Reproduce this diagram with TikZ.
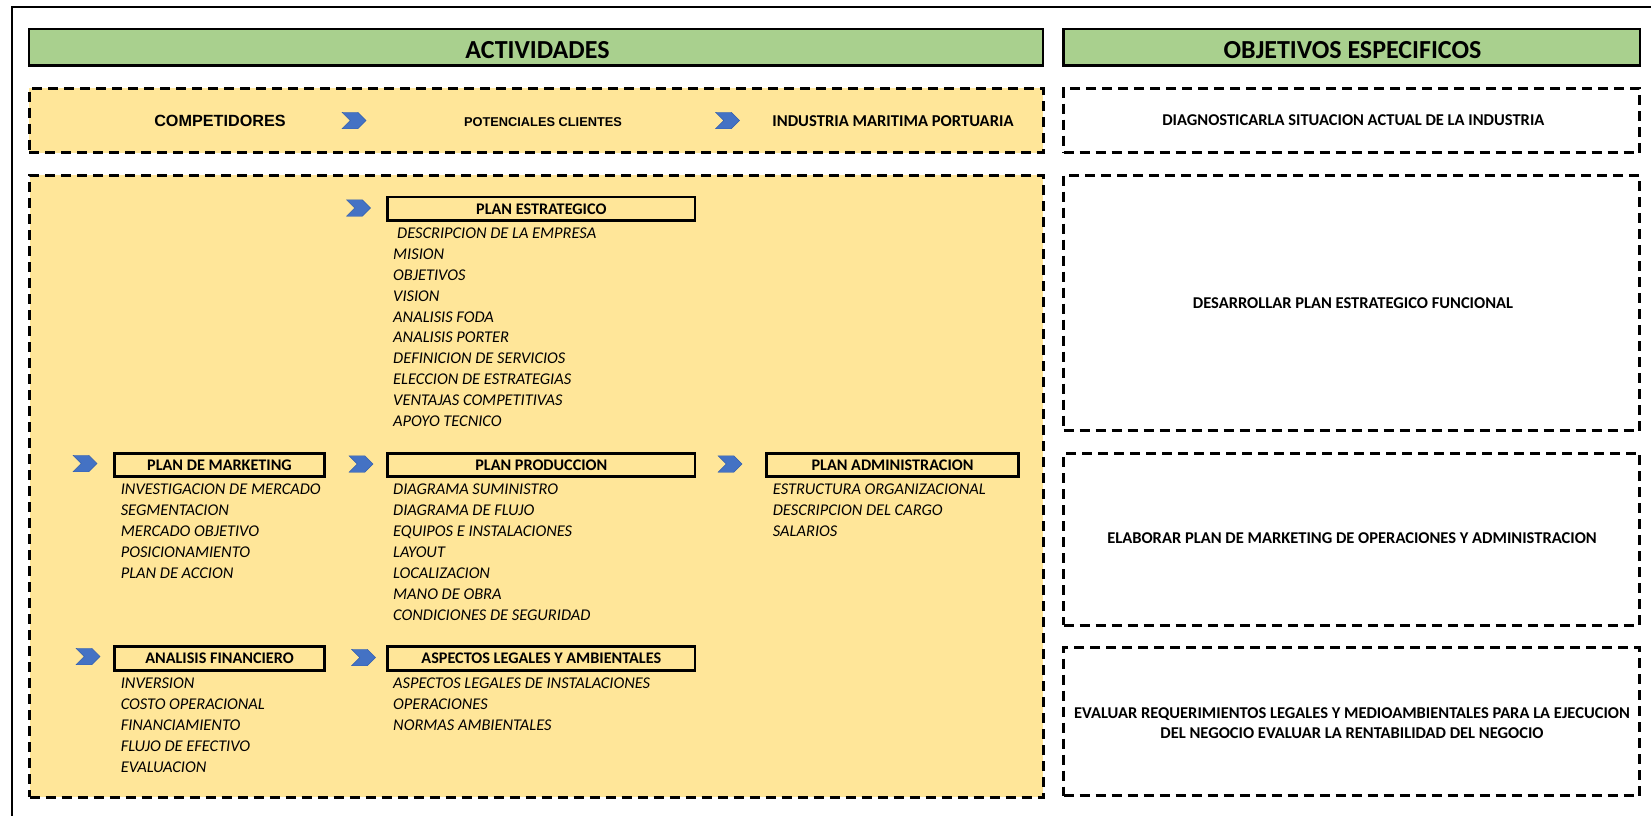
\documentclass[tikz,border=0pt]{standalone}
\usepackage{fontspec}
\setmainfont{Carlito}
\newfontfamily\arialfont{Liberation Sans}
\usetikzlibrary{shapes.symbols}
\definecolor{hdrgreen}{HTML}{A9D08E}
\definecolor{panelgold}{HTML}{FFE699}
\definecolor{chevblue}{HTML}{4472C4}
\definecolor{chevedge}{HTML}{3560AE}

\begin{document}
\begin{tikzpicture}[x=1pt,y=-1pt,
  header/.style={draw, line width=2.6pt, fill=hdrgreen, minimum height=36.5pt, inner sep=0pt},
  headtext/.style={anchor=base, inner sep=0pt, font=\bfseries\fontsize{26}{30}\selectfont},
  dashbox/.style={draw, line width=3pt, dash pattern=on 10pt off 6pt, inner sep=0pt},
  titlebox/.style={draw, line width=2.8pt, minimum height=23.5pt, inner sep=0pt, font=\bfseries\fontsize{16.2}{18}\selectfont},
  chev/.style={signal, signal from=west, signal to=east, fill=chevblue, draw=chevedge, line width=0.4pt, minimum width=24pt, minimum height=16.5pt, inner sep=0pt},
  entry/.style={anchor=base west, inner sep=0pt, font=\itshape\fontsize{16.4}{18}\selectfont},
  goal/.style={anchor=base, inner sep=0pt, align=center, font=\bfseries\fontsize{16.5}{20}\selectfont},
  flowtext/.style={anchor=base, inner sep=0pt},
]
% page and outer frame
\path[use as bounding box, fill=white] (0,0) rectangle (1651,816);
\begin{scope}
  \clip (0,0) rectangle (1651,816);
  \draw[line width=2pt] (1700,7) -- (11.5,7) -- (11.5,860);
\end{scope}

% column headers
\node[header, minimum width=1014pt] (hdrA) at (536,47.25) {};
\node[headtext] (hdrAtxt) at (537.5,58.5) {ACTIVIDADES};
\node[header, minimum width=576.5pt] (hdrO) at (1351.75,47.25) {};
\node[headtext] (hdrOtxt) at (1352.5,58.5) {OBJETIVOS ESPECIFICOS};

% activity panels
\node[dashbox, fill=panelgold, minimum width=1014pt, minimum height=64.5pt] (rowA) at (536,120.25) {};
\node[dashbox, fill=panelgold, minimum width=1013.5pt, minimum height=622pt] (bigA) at (536.25,486) {};

% objective panels
\node[dashbox, minimum width=576pt, minimum height=64.5pt] (obj1) at (1351.5,120.25) {};
\node[dashbox, minimum width=576pt, minimum height=255.5pt] (obj2) at (1351.5,302.75) {};
\node[dashbox, minimum width=576pt, minimum height=172pt] (obj3) at (1351.5,539) {};
\node[dashbox, minimum width=576pt, minimum height=148.5pt] (obj4) at (1351.5,721.25) {};

% top flow
\node[flowtext, font=\arialfont\bfseries\fontsize{16.2}{18}\selectfont] (comp) at (220,126.7) {COMPETIDORES};
\node[chev] (ch1) at (354,120.5) {};
\node[flowtext, font=\arialfont\bfseries\fontsize{12.8}{15}\selectfont] (clie) at (543,126.7) {POTENCIALES CLIENTES};
\node[chev] (ch2) at (727.5,120.5) {};
\node[flowtext, font=\bfseries\fontsize{16.6}{18}\selectfont] (indu) at (893,126.7) {INDUSTRIA MARITIMA PORTUARIA};

% objective texts
\node[goal] (g1) at (1353.3,125) {DIAGNOSTICARLA SITUACION ACTUAL DE LA INDUSTRIA};
\node[goal] (g2) at (1353,308.5) {DESARROLLAR PLAN ESTRATEGICO FUNCIONAL};
\node[goal] (g3) at (1352,543.5) {ELABORAR PLAN DE MARKETING DE OPERACIONES Y ADMINISTRACION};
\node[goal] (g4a) at (1352,718.3) {EVALUAR REQUERIMIENTOS LEGALES Y MEDIOAMBIENTALES PARA LA EJECUCION};
\node[goal] (g4b) at (1352,738.3) {DEL NEGOCIO EVALUAR LA RENTABILIDAD DEL NEGOCIO};

% plan titles and chevrons
\node[chev] (chPE) at (358.5,208) {};
\node[titlebox, minimum width=307.4pt] (pe) at (541.3,208.75) {PLAN ESTRATEGICO};

\node[chev] (chPM) at (85,463.5) {};
\node[titlebox, minimum width=209.6pt] (pm) at (219.5,465) {PLAN DE MARKETING};
\node[chev] (chPP) at (361,464) {};
\node[titlebox, minimum width=307.4pt] (pp) at (541.3,465) {PLAN PRODUCCION};
\node[chev] (chPA) at (730,464) {};
\node[titlebox, minimum width=251.6pt] (pa) at (892.5,465) {PLAN ADMINISTRACION};

\node[chev] (chAF) at (88,656.5) {};
\node[titlebox, minimum width=209.6pt, minimum height=24pt] (af) at (219.5,658.7) {ANALISIS FINANCIERO};
\node[chev] (chAL) at (363.5,657.5) {};
\node[titlebox, minimum width=307.4pt, minimum height=24pt] (al) at (541.3,658.7) {ASPECTOS LEGALES Y AMBIENTALES};

% item lists
\foreach \t [count=\k from 0] in {\hspace{4pt}DESCRIPCION DE LA EMPRESA, MISION, OBJETIVOS, VISION,
    ANALISIS FODA, ANALISIS PORTER, DEFINICION DE SERVICIOS, ELECCION DE ESTRATEGIAS,
    VENTAJAS COMPETITIVAS, APOYO TECNICO}
  \node[entry] (pe-\k) at (393,{238.3+20.93*\k}) {\t};

\foreach \t [count=\k from 0] in {INVESTIGACION DE MERCADO, SEGMENTACION, MERCADO OBJETIVO,
    POSICIONAMIENTO, PLAN DE ACCION}
  \node[entry] (pm-\k) at (120.6,{494.3+21*\k}) {\t};

\foreach \t [count=\k from 0] in {DIAGRAMA SUMINISTRO, DIAGRAMA DE FLUJO, EQUIPOS E INSTALACIONES,
    LAYOUT, LOCALIZACION, MANO DE OBRA, CONDICIONES DE SEGURIDAD}
  \node[entry] (pp-\k) at (393,{494.3+21*\k}) {\t};

\foreach \t [count=\k from 0] in {ESTRUCTURA ORGANIZACIONAL, DESCRIPCION DEL CARGO, SALARIOS}
  \node[entry] (pa-\k) at (772.7,{494.3+21*\k}) {\t};

\foreach \t [count=\k from 0] in {INVERSION, COSTO OPERACIONAL, FINANCIAMIENTO,
    FLUJO DE EFECTIVO, EVALUACION}
  \node[entry] (af-\k) at (120.6,{688.3+21*\k}) {\t};

\foreach \t [count=\k from 0] in {ASPECTOS LEGALES DE INSTALACIONES, OPERACIONES, NORMAS AMBIENTALES}
  \node[entry] (al-\k) at (393,{688.3+21*\k}) {\t};
\end{tikzpicture}
\end{document}
